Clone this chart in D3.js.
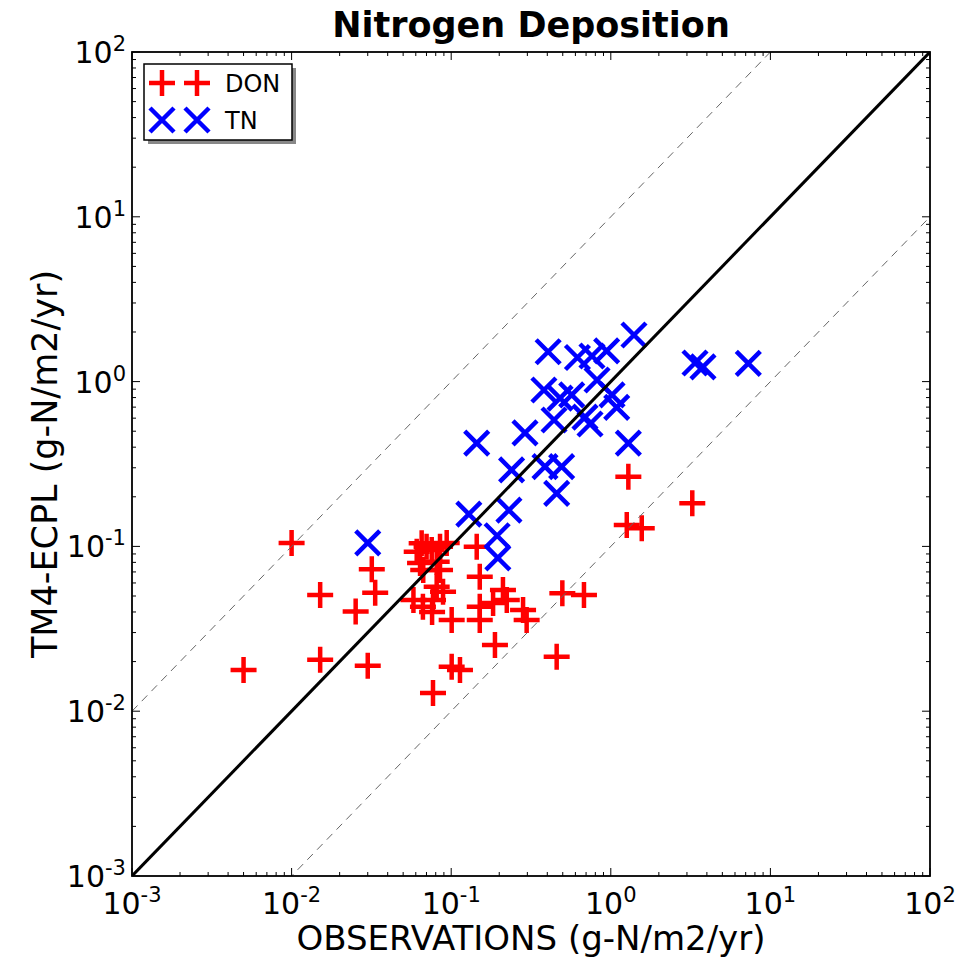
<!DOCTYPE html>
<html>
<head>
<meta charset="utf-8">
<script src="https://cdn.jsdelivr.net/npm/d3@7"></script>
<style>
  body { margin: 0; background: #fff; }
  text { font-family: "DejaVu Sans", sans-serif; }
</style>
</head>
<body>
<div id="chart"></div>
<script>
// DON points (observed, modelled), g-N/m2/yr
const donObs = [0.010, 0.0050, 0.0151, 0.0151, 0.0252, 0.0318, 0.0334, 0.030,
  0.0653, 0.0701, 0.0608, 0.0755, 0.0851, 0.0937, 0.0638, 0.0811, 0.0668,
  0.058, 0.0665, 0.0769, 0.0811, 0.0889, 0.0759,
  0.1445, 0.151, 0.0851, 0.1007, 0.151, 0.151, 0.183, 0.211, 0.223, 0.282, 0.297,
  0.188, 0.1007, 0.1135, 0.0769, 0.458, 1.288, 3.24, 1.259, 1.563, 0.497, 0.679];
const donModel = [0.105, 0.0178, 0.0507, 0.0205, 0.0402, 0.0726, 0.0524, 0.0189,
  0.1045, 0.0995, 0.0929, 0.095, 0.0995, 0.105, 0.0792, 0.0807, 0.072,
  0.0473, 0.043, 0.0473, 0.0569, 0.0531, 0.040,
  0.0995, 0.0655, 0.072, 0.0357, 0.043, 0.0357, 0.0454, 0.0543, 0.0473, 0.0411, 0.0357,
  0.0252, 0.0186, 0.0178, 0.0129, 0.0214, 0.265, 0.183, 0.135, 0.129, 0.052, 0.0507];

// TN points
const tnObs = [0.030, 0.1445, 0.405, 0.618, 0.762, 0.942, 1.397, 0.381, 0.481, 0.569,
  0.820, 1.018, 1.089, 0.441, 0.689, 0.741, 1.288, 0.290, 0.239, 0.387, 0.492, 0.458,
  0.129, 0.230, 0.194, 0.196, 3.37, 3.78, 7.27];
const tnModel = [0.105, 0.423, 1.518, 1.40, 1.43, 1.535, 1.918, 0.889, 0.794, 0.830,
  1.023, 0.830, 0.697, 0.585, 0.609, 0.553, 0.423, 0.488, 0.291, 0.305, 0.305, 0.210,
  0.157, 0.166, 0.116, 0.0851, 1.297, 1.227, 1.29];

const decades = [-3, -2, -1, 0, 1, 2];
const ratioLines = [
  { k: 1, dash: null, width: 3, color: "#000" },
  { k: 10, dash: "8,6", width: 1, color: "#666" },
  { k: 0.1, dash: "8,6", width: 1, color: "#666" }
];
const legendItems = [
  { label: "DON", marker: "plus", color: "#ff0000" },
  { label: "TN", marker: "x", color: "#0000ff" }
];

const W = 960, H = 967;
const margin = { top: 52, right: 30, bottom: 91, left: 132 };
const width = W - margin.left - margin.right;
const height = H - margin.top - margin.bottom;

const svg = d3.select("#chart").append("svg")
  .attr("width", W)
  .attr("height", H);

const g = svg.append("g")
  .attr("transform", `translate(${margin.left},${margin.top})`);

const x = d3.scaleLog().domain([1e-3, 1e2]).range([0, width]);
const y = d3.scaleLog().domain([1e-3, 1e2]).range([height, 0]);

svg.append("defs").append("clipPath").attr("id", "clip")
  .append("rect").attr("width", width).attr("height", height);

const plusPath = "M-13,0H13M0,-13V13";
const xPath = "M-12,-12L12,12M-12,12L12,-12";

// markers
g.append("g").selectAll("path")
  .data(donObs.map((d, i) => [d, donModel[i]]))
  .enter().append("path")
  .attr("d", plusPath)
  .attr("transform", d => `translate(${x(d[0])},${y(d[1])})`)
  .attr("stroke", "#ff0000")
  .attr("stroke-width", 4.5)
  .attr("fill", "none");

g.append("g").selectAll("path")
  .data(tnObs.map((d, i) => [d, tnModel[i]]))
  .enter().append("path")
  .attr("d", xPath)
  .attr("transform", d => `translate(${x(d[0])},${y(d[1])})`)
  .attr("stroke", "#0000ff")
  .attr("stroke-width", 4.5)
  .attr("fill", "none");

// 1:1 and factor-10 lines
g.append("g").attr("clip-path", "url(#clip)")
  .selectAll("line")
  .data(ratioLines)
  .enter().append("line")
  .attr("x1", x(1e-3)).attr("x2", x(1e2))
  .attr("y1", d => y(1e-3 * d.k)).attr("y2", d => y(1e2 * d.k))
  .attr("stroke", d => d.color)
  .attr("stroke-width", d => d.width)
  .attr("stroke-dasharray", d => d.dash);

// ticks (inward, all four sides)
const allTicks = x.ticks();
const isMajor = v => Math.abs(Math.log10(v) - Math.round(Math.log10(v))) < 1e-9;

const tickG = g.append("g").attr("stroke", "#000").attr("stroke-width", 1);
allTicks.forEach(v => {
  const len = isMajor(v) ? 8 : 4;
  const px = x(v), py = y(v);
  tickG.append("line").attr("x1", px).attr("x2", px).attr("y1", height).attr("y2", height - len);
  tickG.append("line").attr("x1", px).attr("x2", px).attr("y1", 0).attr("y2", len);
  tickG.append("line").attr("y1", py).attr("y2", py).attr("x1", 0).attr("x2", len);
  tickG.append("line").attr("y1", py).attr("y2", py).attr("x1", width).attr("x2", width - len);
});

// frame
g.append("rect")
  .attr("width", width).attr("height", height)
  .attr("fill", "none").attr("stroke", "#000").attr("stroke-width", 1.8);

// tick labels with superscripts
function powerLabel(sel, e) {
  sel.append("tspan").text("10");
  sel.append("tspan").attr("dy", -12).attr("font-size", 21).text(e < 0 ? "-" + (-e) : String(e));
}

decades.forEach(e => {
  const v = Math.pow(10, e);
  const tx = g.append("text")
    .attr("x", x(v)).attr("y", height + 38)
    .attr("text-anchor", "middle")
    .attr("font-size", 30);
  powerLabel(tx, e);

  const ty = g.append("text")
    .attr("x", -6).attr("y", y(v) + 11)
    .attr("text-anchor", "end")
    .attr("font-size", 30);
  powerLabel(ty, e);
});

// axis titles
svg.append("text")
  .attr("x", margin.left + width / 2).attr("y", 37)
  .attr("text-anchor", "middle")
  .attr("font-size", 35).attr("font-weight", "bold")
  .text("Nitrogen Deposition");

svg.append("text")
  .attr("x", margin.left + width / 2).attr("y", 950)
  .attr("text-anchor", "middle")
  .attr("font-size", 34)
  .text("OBSERVATIONS (g-N/m2/yr)");

svg.append("text")
  .attr("transform", `translate(57,${margin.top + height / 2}) rotate(-90)`)
  .attr("text-anchor", "middle")
  .attr("font-size", 35)
  .text("TM4-ECPL (g-N/m2/yr)");

// legend
const lg = g.append("g").attr("transform", "translate(12,12)");
lg.append("rect").attr("x", 4).attr("y", 4).attr("width", 148).attr("height", 76).attr("fill", "#888");
lg.append("rect").attr("width", 148).attr("height", 76)
  .attr("fill", "#fff").attr("stroke", "#000").attr("stroke-width", 1.5);

const li = lg.selectAll(".legend-item")
  .data(legendItems)
  .enter().append("g")
  .attr("class", "legend-item")
  .attr("transform", (d, i) => `translate(0,${19 + i * 37})`);

[18, 53].forEach(mx => {
  li.append("path")
    .attr("d", d => d.marker === "plus" ? plusPath : xPath)
    .attr("transform", `translate(${mx},0)`)
    .attr("stroke", d => d.color)
    .attr("stroke-width", 4.5)
    .attr("fill", "none");
});

li.append("text")
  .attr("x", 81).attr("y", 9)
  .attr("font-size", 24)
  .text(d => d.label);
</script>
</body>
</html>
